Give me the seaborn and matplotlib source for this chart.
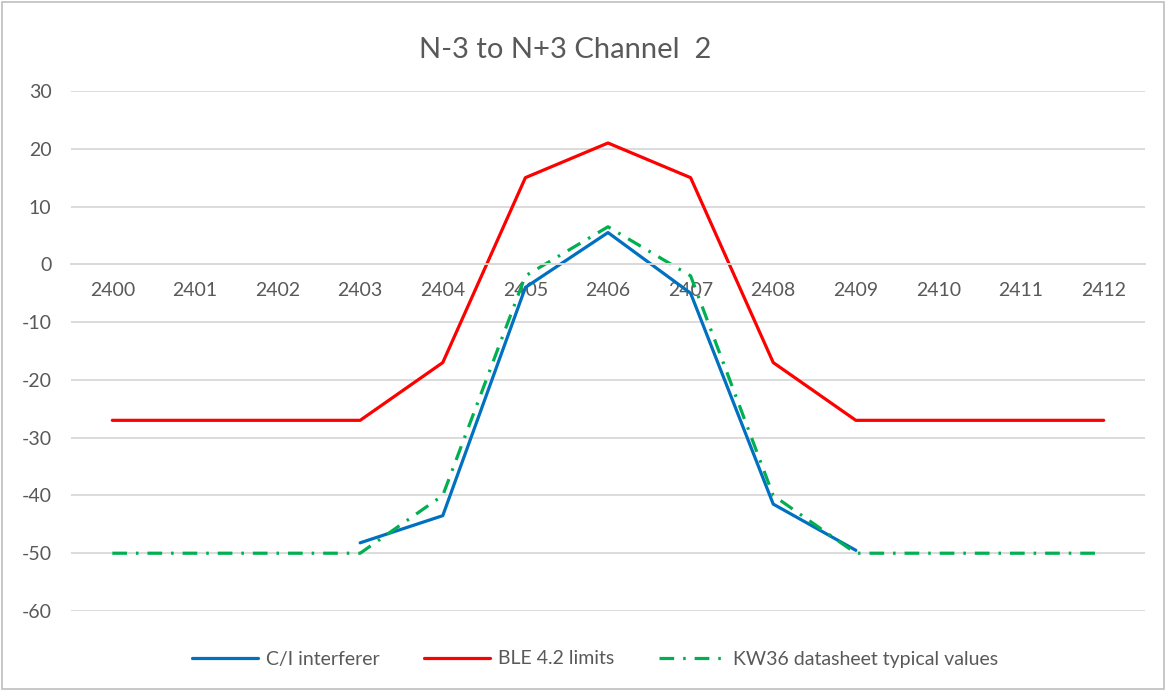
import numpy as np
import pandas as pd
import matplotlib
matplotlib.use("Agg")
import matplotlib.pyplot as plt
import seaborn as sns

# Channel frequencies (MHz) and the three curves
channels = ["2400", "2401", "2402", "2403", "2404", "2405", "2406",
            "2407", "2408", "2409", "2410", "2411", "2412"]
ci_interferer = [np.nan, np.nan, np.nan, -48.2, -43.5, -4, 5.5,
                 -5, -41.5, -49.5, np.nan, np.nan, np.nan]
ble_limits = [-27, -27, -27, -27, -17, 15, 21, 15, -17, -27, -27, -27, -27]
kw36_typical = [-50, -50, -50, -50, -40, -2, 6.5, -2, -40, -50, -50, -50, -50]

series_names = ["C/I interferer", "BLE 4.2 limits", "KW36 datasheet typical values"]
series_vals = [ci_interferer, ble_limits, kw36_typical]
colors = ["#0070C0", "#FF0000", "#00B050"]

idx = np.arange(len(channels))
df = pd.concat([
    pd.DataFrame({"idx": idx, "value": vals, "series": name})
    for name, vals in zip(series_names, series_vals)
])

sns.set_theme(style="white")
plt.rcParams["font.family"] = ["Lato", "DejaVu Sans"]
plt.rcParams["axes.unicode_minus"] = False
text_grey = "#595959"
grid_grey = "#D9D9D9"

fig = plt.figure(figsize=(11.66, 6.91), dpi=100)
ax = fig.add_axes([71 / 1166, 1 - 611 / 691, 1074 / 1166, 520 / 691])

for name, col in zip(series_names, colors):
    sub = df[df["series"] == name].dropna()
    sns.lineplot(data=sub, x="idx", y="value", ax=ax, color=col,
                 linewidth=2.3, label=name, sort=False)

green_line = ax.get_lines()[2]
green_line.set_dashes([4.6, 2.8, 0.8, 2.8])

ax.set_xlim(-0.5, len(channels) - 0.5)
ax.set_ylim(-60, 30)
ax.set_yticks(np.arange(-60, 31, 10))
ax.set_xticks(idx)
ax.set_xticklabels(channels)
ax.yaxis.grid(True, color=grid_grey, linewidth=1.3)
ax.set_axisbelow(True)
ax.set_xlabel("")
ax.set_ylabel("")

for side in ["top", "right", "left"]:
    ax.spines[side].set_visible(False)
ax.spines["bottom"].set_position(("data", 0))
ax.spines["bottom"].set_color(grid_grey)
ax.spines["bottom"].set_linewidth(1.3)

ax.tick_params(axis="x", length=0, pad=13, labelsize=14, labelcolor=text_grey)
ax.tick_params(axis="y", length=0, pad=14, labelsize=14, labelcolor=text_grey)

fig.text(565 / 1166, 1 - 50 / 691, "N-3 to N+3 Channel  2", ha="center",
         va="center", fontsize=21, color=text_grey)

leg = ax.legend(loc="center", bbox_to_anchor=((595 - 71) / 1074, -(659 - 611) / 520),
                ncol=3, frameon=False, fontsize=14, handlelength=3.4,
                columnspacing=2.3, handletextpad=0.4)
for t in leg.get_texts():
    t.set_color(text_grey)

# Thin border around the chart area
border = plt.Rectangle((0.002, 0.003), 0.996, 0.994, transform=fig.transFigure,
                       fill=False, edgecolor="#BFBFBF", linewidth=1.2)
fig.add_artist(border)

fig.savefig("out.png", dpi=100, facecolor="white")
